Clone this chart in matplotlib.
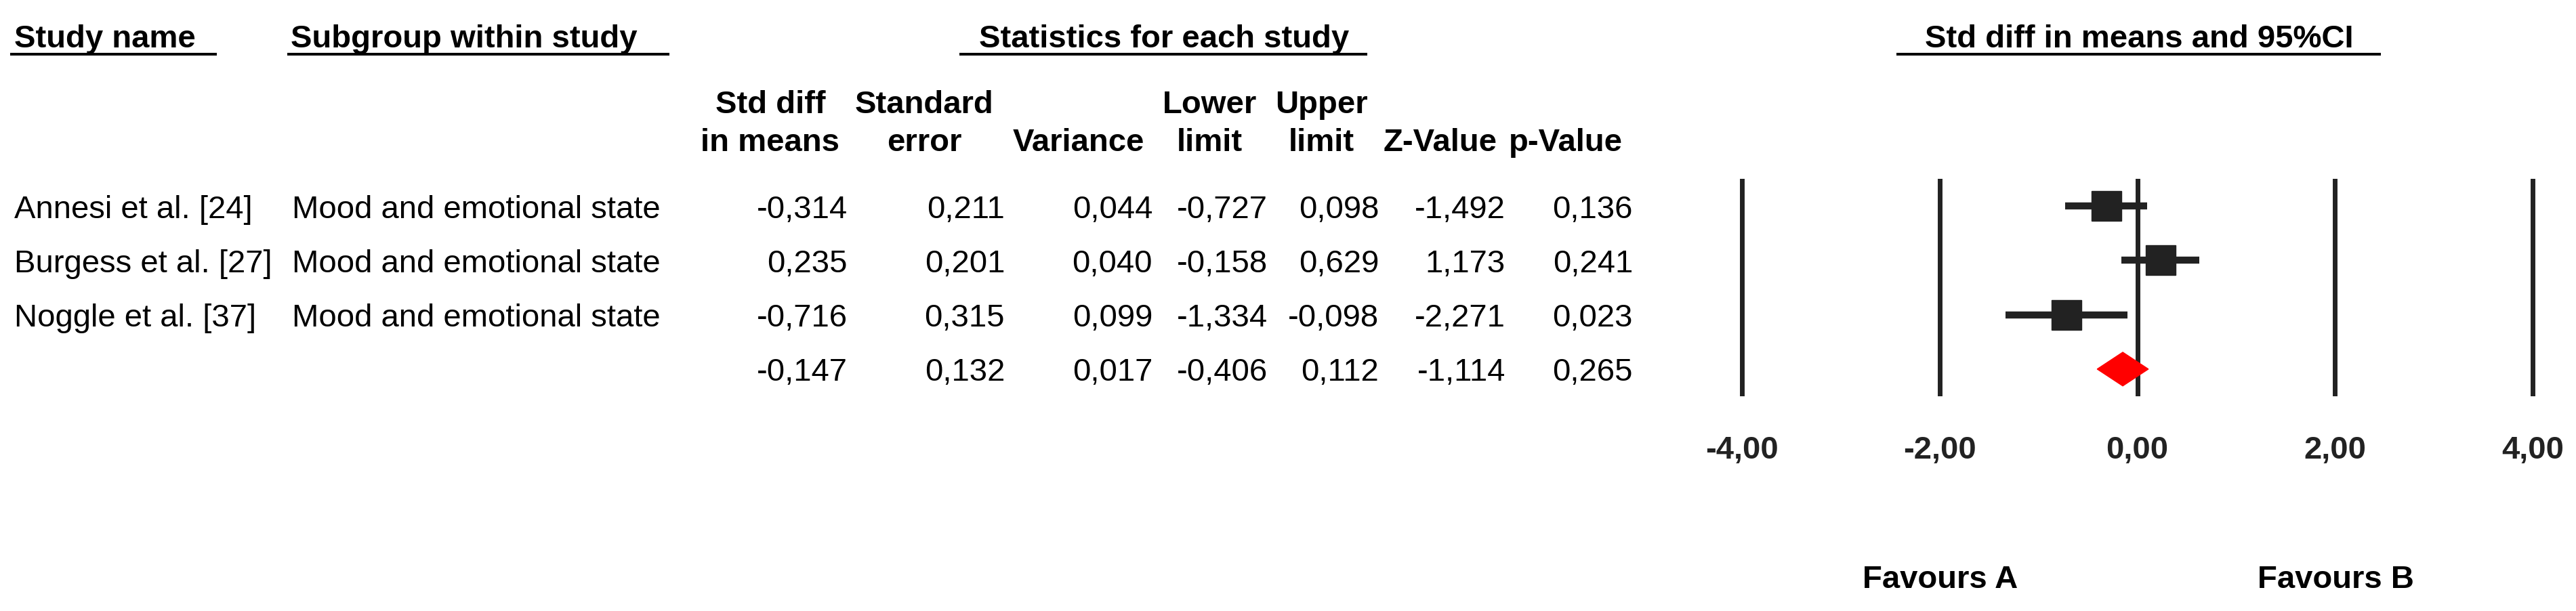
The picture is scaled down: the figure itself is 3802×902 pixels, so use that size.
import matplotlib
matplotlib.use("Agg")
import matplotlib.pyplot as plt
from matplotlib.lines import Line2D
from matplotlib.patches import Polygon

# ---------------- data ----------------
studies = ["Annesi et al. [24]", "Burgess et al. [27]", "Noggle et al. [37]", ""]
subgroups = ["Mood and emotional state"] * 3 + [""]
std_diff = [-0.314, 0.235, -0.716, -0.147]
std_err = [0.211, 0.201, 0.315, 0.132]
variance = [0.044, 0.040, 0.099, 0.017]
lower = [-0.727, -0.158, -1.334, -0.406]
upper = [0.098, 0.629, -0.098, 0.112]
z_value = [-1.492, 1.173, -2.271, -1.114]
p_value = [0.136, 0.241, 0.023, 0.265]
x_ticks = [-4, -2, 0, 2, 4]

col_head1 = ["Std diff", "Standard", "", "Lower", "Upper", "", ""]
col_head2 = ["in means", "error", "Variance", "limit", "limit", "Z-Value", "p-Value"]

# ---------------- layout (pixels) ----------------
W, H = 3802, 903
plt.rcParams['font.family'] = ['Liberation Sans', 'DejaVu Sans']
FS = 34
DARK = '#222222'

fig = plt.figure(figsize=(W / 100, H / 100), dpi=100, facecolor='white')


def fx(x):
    return x / W


def fy(y):
    return 1 - y / H


def ptext(x, y, s, **kw):
    fig.text(fx(x), fy(y), s, fontsize=FS, va='baseline', **kw)


def uline(x0, x1, y):
    fig.add_artist(Line2D([fx(x0), fx(x1)], [fy(y), fy(y)], color='black',
                          lw=2.9, transform=fig.transFigure))


# top headers
ptext(21, 70, "Study name", fontweight='bold')
uline(17, 318, 81)
ptext(429, 70, "Subgroup within study", fontweight='bold')
uline(426, 986, 81)
ptext(1718, 70, "Statistics for each study", fontweight='bold', ha='center')
uline(1418, 2016, 81)
ptext(3157, 70, "Std diff in means and 95%CI", fontweight='bold', ha='center')
uline(2801, 3512, 81)

# column headers
head_cx = [1137, 1364, 1592, 1785, 1950, 2126, 2311]
for cx, h1, h2 in zip(head_cx, col_head1, col_head2):
    if h1:
        ptext(cx, 167, h1, fontweight='bold', ha='center')
    ptext(cx, 223, h2, fontweight='bold', ha='center')

# table rows
col_right = [1251, 1483, 1701, 1871, 2035, 2222, 2410]
columns = [std_diff, std_err, variance, lower, upper, z_value, p_value]
row_base = [322, 402, 482, 562]


def fmt(v, d=3):
    return f"{v:.{d}f}".replace('.', ',')


for i, yb in enumerate(row_base):
    if studies[i]:
        ptext(21, yb, studies[i])
    if subgroups[i]:
        ptext(431, yb, subgroups[i])
    for xr, col in zip(col_right, columns):
        ptext(xr, yb, fmt(col[i]), ha='right')

# ---------------- forest plot ----------------
x_m4, x_p4 = 2571, 3738
ppu = (x_p4 - x_m4) / 8
ax_l, ax_r, ax_t, ax_b = 2540, 3770, 265, 586
ax = fig.add_axes([fx(ax_l), fy(ax_b), (ax_r - ax_l) / W, (ax_b - ax_t) / H])
ax.set_xlim(-4 - (x_m4 - ax_l) / ppu, 4 + (ax_r - x_p4) / ppu)
ax.set_ylim(3.5, -0.5)
ax.axis('on')
for s in ax.spines.values():
    s.set_visible(False)
ax.set_yticks([])
ax.patch.set_alpha(0)

for t in x_ticks:
    ax.axvline(t, color=DARK, lw=5, zorder=1)

n = len(std_diff)
for i in range(n - 1):
    ax.plot([lower[i], upper[i]], [i, i], color=DARK, lw=7.5,
            solid_capstyle='butt', zorder=2)
    ax.plot(std_diff[i], i, marker='s', ms=32, color=DARK, zorder=3)

k = n - 1
hh = 0.31
diamond = Polygon([[lower[k], k], [std_diff[k], k - hh], [upper[k], k],
                   [std_diff[k], k + hh]], closed=True, color='red', zorder=3)
ax.add_patch(diamond)

ax.set_xticks(x_ticks, labels=[fmt(t, 2) for t in x_ticks])
ax.tick_params(axis='x', length=0, pad=41, labelsize=FS, labelcolor=DARK)
for lab in ax.get_xticklabels():
    lab.set_fontweight('bold')

ptext(2864, 868, "Favours A", fontweight='bold', ha='center')
ptext(3447, 868, "Favours B", fontweight='bold', ha='center')

fig.savefig("out.png", dpi=100, facecolor='white')
